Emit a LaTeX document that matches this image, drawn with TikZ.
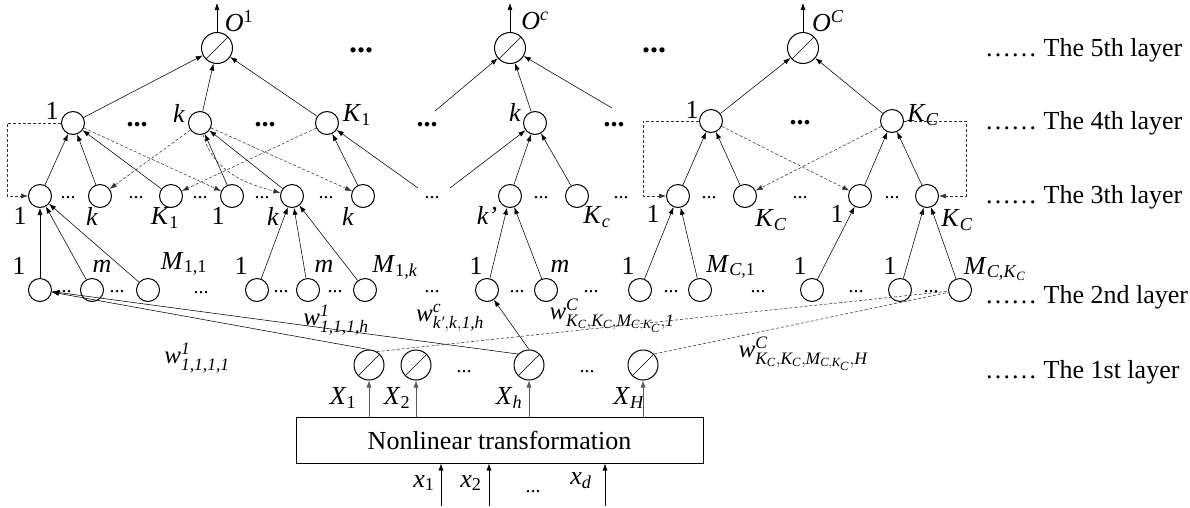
\documentclass[tikz,border=0pt]{standalone}
\usepackage{fontspec}
\setmainfont{Liberation Serif}
\usepackage{amsmath}
\usetikzlibrary{arrows.meta}
\newcommand\tx[1]{\text{\itshape #1}}
\tikzset{
 nd/.style={circle,draw,line width=1pt,minimum size=23pt,inner sep=0pt},
 sn/.style={circle,draw,line width=1pt,minimum size=#1,inner sep=0pt,
   path picture={\draw[line width=0.6pt] (path picture bounding box.south west) -- (path picture bounding box.north east);}},
 ar/.style={line width=0.55pt,-{Latex[length=7pt,width=5pt]}},
 gar/.style={line width=0.55pt,black!65,-{Latex[length=7pt,width=5pt]}},
 dar/.style={line width=0.55pt,black!80,dash pattern=on 3pt off 2pt,-{Latex[length=7pt,width=5pt]}},
 dln/.style={line width=0.55pt,black!80,dash pattern=on 3pt off 2pt},
 lb/.style={inner sep=0pt},
 sd/.style={inner sep=0pt,font=\fontsize{20}{22}\selectfont},
 bd/.style={inner sep=0pt,font=\bfseries\fontsize{28}{28}\selectfont},
 bdt/.style={inner sep=0pt,font=\bfseries\fontsize{32}{32}\selectfont},
 wl/.style={inner sep=0pt,font=\fontsize{25}{27}\selectfont},
 lay/.style={anchor=west,inner sep=0pt},
}
\begin{document}
\begin{tikzpicture}[x=1pt,y=1pt,font=\fontsize{26}{28}\selectfont]
\useasboundingbox (0,0) rectangle (1190,-507);
% ---------- layer 5
\node[sn=31pt] (o1) at (217,-48) {};
\node[sn=31pt] (oc) at (510,-48) {};
\node[sn=31pt] (oC) at (803,-48) {};
\coordinate (o1t) at (217,-3);
\coordinate (oct) at (510,-3);
\coordinate (oCt) at (803,-3);
\draw[ar] (o1) -- (o1t);
\draw[ar] (oc) -- (oct);
\draw[ar] (oC) -- (oCt);
\node[lb] (lo1) at (239,-21) {\textit{O}\textsuperscript{1}};
\node[lb] (loc) at (535,-21) {\textit{O}\textsuperscript{\textit{c}}};
\node[lb] (loC) at (828,-21) {\textit{O}\textsuperscript{\textit{C}}};
\node[bdt] (t1) at (361,-50) {...};
\node[bdt] (t2) at (654,-50) {...};
% ---------- layer 4
\node[nd] (a1) at (73,-123) {};
\node[nd] (a2) at (200,-123) {};
\node[nd] (a3) at (327,-123) {};
\node[nd] (a4) at (535,-123) {};
\node[nd] (a5) at (711,-121) {};
\node[nd] (a6) at (892,-121) {};
\node[bd] (q1) at (137,-125) {...};
\node[bd] (q2) at (265,-125) {...};
\node[bd] (d4a) at (427,-125) {...};
\node[bd] (d4b) at (614,-125) {...};
\node[bd] (q3) at (800,-123) {...};
\coordinate (d4as) at (435,-111);
\coordinate (d4bs) at (612,-108);
\node[lb] (la1) at (52,-111) {1};
\node[lb] (la2) at (179,-113) {\textit{k}};
\node[lb] (la3) at (357,-115) {\textit{K}\textsubscript{1}};
\node[lb] (la4) at (515,-112) {\textit{k}};
\node[lb] (la5) at (692,-110) {1};
\node[lb] (la6) at (923,-115) {\textit{K}\textsubscript{\textit{C}}};
% ---------- layer 3
\node[nd] (b1) at (40,-196) {};
\node[nd] (b2) at (100,-196) {};
\node[nd] (b3) at (171,-196) {};
\node[nd] (b4) at (232,-196) {};
\node[nd] (b5) at (292,-196) {};
\node[nd] (b6) at (363,-196) {};
\node[nd] (b7) at (510,-196) {};
\node[nd] (b8) at (577,-196) {};
\node[nd] (b9) at (678,-196) {};
\node[nd] (b10) at (745,-196) {};
\node[nd] (b11) at (860,-196) {};
\node[nd] (b12) at (927,-196) {};
\node[sd] (r1) at (68,-198) {...};
\node[sd] (r2) at (136,-198) {...};
\node[sd] (r3) at (200,-198) {...};
\node[sd] (r4) at (262,-198) {...};
\node[sd] (r5) at (326,-198) {...};
\node[sd] (d3m) at (432,-198) {...};
\node[sd] (r6) at (541,-198) {...};
\node[sd] (r7) at (621,-198) {...};
\node[sd] (r8) at (709,-198) {...};
\node[sd] (r9) at (800,-198) {...};
\node[sd] (r10) at (892,-198) {...};
\coordinate (d3ml) at (418,-188);
\coordinate (d3mr) at (450,-188);
\node[lb] (lb1) at (20,-216) {1};
\node[lb] (lb2) at (92,-216) {\textit{k}};
\node[lb] (lb3) at (165,-218) {\textit{K}\textsubscript{1}};
\node[lb] (lb4) at (218,-216) {1};
\node[lb] (lb5) at (273,-216) {\textit{k}};
\node[lb] (lb6) at (348,-216) {\textit{k}};
\node[lb] (lb7) at (487,-215) {\textit{k’}};
\node[lb] (lb8) at (597,-217) {\textit{K}\textsubscript{\textit{c}}};
\node[lb] (lb9) at (653,-214) {1};
\node[lb] (lb10) at (771,-220) {\textit{K}\textsubscript{\textit{C}}};
\node[lb] (lb11) at (837,-214) {1};
\node[lb] (lb12) at (957,-220) {\textit{K}\textsubscript{\textit{C}}};
% ---------- layer 2
\node[nd] (c1) at (40,-290) {};
\node[nd] (c2) at (92,-290) {};
\node[nd] (c3) at (148,-290) {};
\node[nd] (c4) at (257,-290) {};
\node[nd] (c5) at (308,-290) {};
\node[nd] (c6) at (365,-290) {};
\node[nd] (c7) at (487,-290) {};
\node[nd] (c8) at (546,-290) {};
\node[nd] (c9) at (640,-290) {};
\node[nd] (c10) at (700,-290) {};
\node[nd] (c11) at (812,-290) {};
\node[nd] (c12) at (900,-290) {};
\node[nd] (c13) at (960,-290) {};
\node[sd] (s1) at (64,-292) {...};
\node[sd] (s2) at (117,-292) {...};
\node[sd] (s3) at (201,-293) {...};
\node[sd] (s4) at (281,-292) {...};
\node[sd] (s5) at (335,-292) {...};
\node[sd] (s6) at (432,-292) {...};
\node[sd] (s7) at (517,-292) {...};
\node[sd] (s8) at (591,-292) {...};
\node[sd] (s9) at (671,-292) {...};
\node[sd] (s10) at (758,-292) {...};
\node[sd] (s11) at (856,-292) {...};
\node[sd] (s12) at (931,-292) {...};
\node[lb] (lc1) at (19,-266) {1};
\node[lb] (lc2) at (102,-266) {\textit{m}};
\node[lb] (lc3) at (184,-264) {\textit{M}\textsubscript{1,1}};
\node[lb] (lc4) at (241,-266) {1};
\node[lb] (lc5) at (324,-266) {\textit{m}};
\node[lb] (lc6) at (395,-267) {\textit{M}\textsubscript{1,\textit{k}}};
\node[lb] (lc7) at (476,-266) {1};
\node[lb] (lc8) at (560,-266) {\textit{m}};
\node[lb] (lc9) at (628,-266) {1};
\node[lb] (lc10) at (731,-267) {\textit{M}\textsubscript{\textit{C},1}};
\node[lb] (lc11) at (800,-266) {1};
\node[lb] (lc12) at (890,-266) {1};
\node[lb] (lc13) at (995,-269) {\textit{M}\textsubscript{\textit{C},\textit{K}\textsubscript{\textit{C}}}};
% ---------- layer 1
\node[sn=30pt] (e1) at (369,-365) {};
\node[sn=30pt] (e2) at (416,-365) {};
\node[sn=30pt] (e3) at (529,-365) {};
\node[sn=30pt] (e4) at (643,-365) {};
\node[sd] (u1) at (464,-372) {...};
\node[sd] (u2) at (587,-372) {...};
\node[lb] (lx1) at (343,-398) {\textit{X}\textsubscript{1}};
\node[lb] (lx2) at (397,-398) {\textit{X}\textsubscript{2}};
\node[lb] (lx3) at (509,-398) {\textit{X}\textsubscript{\textit{h}}};
\node[lb] (lx4) at (629,-398) {\textit{X}\textsubscript{\textit{H}}};
\node[draw,line width=1pt,minimum width=407pt,minimum height=46pt,inner sep=0pt] (box) at (499.5,-440) {Nonlinear transformation};
\draw[gar] (box.north -| e1) -- (e1);
\draw[gar] (box.north -| e2) -- (e2);
\draw[gar] (box.north -| e3) -- (e3);
\draw[gar] (box.north -| e4) -- (e4);
\coordinate (i1) at (441,-506);
\coordinate (i2) at (489,-506);
\coordinate (i3) at (605,-506);
\draw[ar] (i1) -- (i1 |- box.south);
\draw[ar] (i2) -- (i2 |- box.south);
\draw[ar] (i3) -- (i3 |- box.south);
\node[lb] (lxa) at (424,-483) {\textit{x}\textsubscript{1}};
\node[lb] (lxb) at (471,-483) {\textit{x}\textsubscript{2}};
\node[sd] (lxc) at (533,-492) {...};
\node[lb] (lxd) at (581,-481) {\textit{x}\textsubscript{\textit{d}}};
% ---------- layer labels
\node[lay] (L5) at (985,-50) {…… The 5th layer};
\node[lay] (L4) at (985,-123) {…… The 4th layer};
\node[lay] (L3) at (985,-197) {…… The 3th layer};
\node[lay] (L2) at (985,-297) {…… The 2nd layer};
\node[lay] (L1) at (985,-372) {…… The 1st layer};
% ---------- layer 4 -> 5
\draw[ar] (a1) -- (o1);
\draw[ar] (a2) -- (o1);
\draw[ar] (a3) -- (o1);
\draw[ar] (d4as) -- (oc);
\draw[ar] (a4) -- (oc);
\draw[ar] (d4bs) -- (oc);
\draw[ar] (a5) -- (oC);
\draw[ar] (a6) -- (oC);
% ---------- layer 3 -> 4
\draw[ar] (b1) -- (a1);
\draw[ar] (b2) -- (a1);
\draw[ar] (b3) -- (a1);
\draw[ar] (b4) -- (a2);
\draw[ar] (b5) -- (a2);
\draw[ar] (b6) -- (a3);
\draw[ar] (d3ml) -- (a3);
\draw[ar] (d3mr) -- (a4);
\draw[ar] (b7) -- (a4);
\draw[ar] (b8) -- (a4);
\draw[ar] (b9) -- (a5);
\draw[ar] (b10) -- (a5);
\draw[ar] (b11) -- (a6);
\draw[ar] (b12) -- (a6);
% dashed cross links
\draw[dar] (a1) -- (b4);
\draw[dar] (a2) -- (b2);
\draw[dar] (a2) to[out=-75,in=165] (b5);
\draw[dar] (a2) -- (b6);
\draw[dar] (a3) -- (b3);
\draw[dar] (a5) -- (b11);
\draw[dar] (a6) -- (b10);
\draw[dar] (a1.west) -- ++(-54,0) |- (b1.west);
\draw[dar] (a5.west) -- ++(-56,0) |- (b9.west);
\draw[dar] (a6.east) -- ++(62,0) |- (b12.east);
% ---------- layer 2 -> 3
\draw[ar] (c1) -- (b1);
\draw[ar] (c2) -- (b1);
\draw[ar] (c3) -- (b1);
\draw[ar] (c4) -- (b5);
\draw[ar] (c5) -- (b5);
\draw[ar] (c6) -- (b5);
\draw[ar] (c7) -- (b7);
\draw[ar] (c8) -- (b7);
\draw[ar] (c9) -- (b9);
\draw[ar] (c10) -- (b9);
\draw[ar] (c11) -- (b11);
\draw[ar] (c12) -- (b12);
\draw[ar] (c13) -- (b12);
% ---------- layer 1 -> 2
\draw[ar] (e1.north) -- (c1);
\draw[ar] (e3.north west) -- (c1);
\draw[ar] (e3.north) -- (c7);
\draw[dln] (e1.60) -- (c13);
\draw[dln] (e4.north east) -- (c13);
\node[wl] (w1) at (197,-358) {$\tx{w}^{\tx{1}}_{\tx{1,1,1,1}}$};
\node[wl] (w2) at (336,-320) {$\tx{w}^{\tx{1}}_{\tx{1,1,1,h}}$};
\node[wl] (w3) at (450,-318) {$\tx{w}^{\tx{c}}_{\tx{k′},\tx{k},\tx{1,h}}$};
\node[wl] (w4) at (612,-316) {$\tx{w}^{\tx{C}}_{\tx{K}_{\tx{C}},\tx{K}_{\tx{C}},\tx{M}_{\tx{C},\tx{K}_{\tx{C}}},\tx{1}}$};
\node[wl] (w5) at (803,-354) {$\tx{w}^{\tx{C}}_{\tx{K}_{\tx{C}},\tx{K}_{\tx{C}},\tx{M}_{\tx{C},\tx{K}_{\tx{C}}},\tx{H}}$};
\end{tikzpicture}
\end{document}
